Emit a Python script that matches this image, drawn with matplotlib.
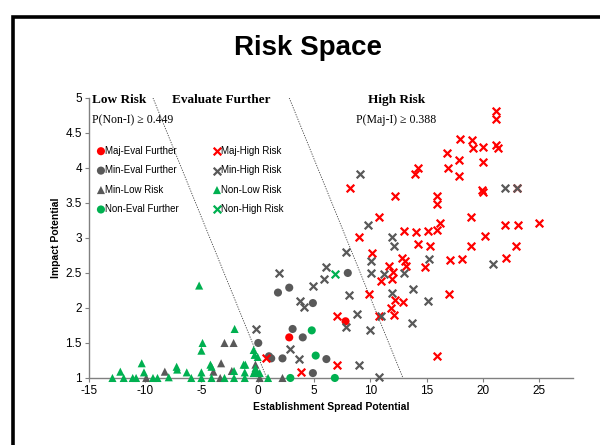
import matplotlib
matplotlib.use("Agg")
import matplotlib.pyplot as plt
import matplotlib.patches as mpatches

# ── colours ──
ROJO = "#FF0000"
GRIS = "#595959"
VERDE = "#00B050"

# ── data ──
maj_eval_x = [2.8, 7.8]
maj_eval_y = [1.58, 1.81]

min_eval_x = [0.05, 1.0, 1.2, 2.2, 1.8, 2.8, 3.1, 4.0, 4.9, 4.9, 6.1, 8.0]
min_eval_y = [1.50, 1.31, 1.28, 1.28, 2.22, 2.29, 1.70, 1.58, 2.07, 1.07, 1.27, 2.50]

min_low_x = [-9.9, -8.25, -3.93, -3.25, -2.95, -2.14, -3.33, -2.3, -0.25, -0.2, 0.18, 2.2]
min_low_y = [1.0, 1.09, 1.09, 1.21, 1.50, 1.50, 1.0, 1.10, 1.10, 1.19, 1.0, 1.0]

non_eval_x = [2.9, 4.8, 6.85, 5.15]
non_eval_y = [1.0, 1.68, 1.0, 1.32]

maj_high_x = [0.7, 3.85, 7.0, 7.0, 9.0, 10.15, 9.9, 10.75, 10.95, 11.7,
              11.9, 12.05, 12.15, 11.85, 12.1, 12.9, 12.8, 13.1, 13.2, 13.0,
              14.1, 14.2, 15.1, 15.3, 15.9, 14.9, 17.1, 17.0, 15.95, 18.15,
              21.2, 21.2, 18.0, 19.0, 19.1, 20.0, 21.2, 21.3, 16.8, 17.9,
              16.9, 20.0, 17.9, 14.2, 14.0, 19.9, 20.0, 23.0, 8.2, 12.2,
              15.9, 15.9, 10.75, 18.9, 16.2, 22.0, 23.1, 25.0, 20.2, 18.9,
              22.9, 22.05]
maj_high_y = [1.28, 1.08, 1.89, 1.19, 3.02, 2.78, 2.20, 1.88, 2.38, 2.60,
              2.41, 2.52, 2.11, 2.00, 1.90, 2.09, 2.72, 2.67, 2.60, 3.10,
              3.08, 2.92, 3.10, 2.89, 3.12, 2.59, 2.68, 2.20, 1.32, 2.70,
              4.82, 4.70, 4.41, 4.40, 4.28, 4.30, 4.33, 4.28, 4.21, 4.11,
              4.00, 4.08, 3.88, 4.00, 3.91, 3.69, 3.65, 3.72, 3.71, 3.60,
              3.60, 3.48, 3.30, 3.30, 3.22, 3.18, 3.18, 3.22, 3.03, 2.89,
              2.89, 2.72]

min_high_x = [-0.15, 1.9, 2.9, 3.8, 4.1, 3.7, 4.9, 5.85, 6.1, 7.8,
              8.1, 7.8, 8.8, 9.0, 10.0, 10.1, 10.1, 10.8, 10.95, 11.2,
              11.9, 12.1, 11.9, 13.0, 13.8, 13.7, 15.1, 15.2, 9.1, 22.0,
              23.0, 9.8, 20.9]
min_high_y = [1.70, 2.50, 1.41, 2.10, 2.01, 1.27, 2.32, 2.42, 2.58, 2.80,
              2.19, 1.73, 1.91, 1.18, 1.69, 2.67, 2.50, 1.02, 1.88, 2.48,
              3.02, 2.89, 2.22, 2.50, 2.27, 1.79, 2.10, 2.70, 3.92, 3.72,
              3.72, 3.19, 2.63]

non_low_x = [-12.9, -12.2, -11.9, -11.1, -10.8, -10.3, -10.1, -9.3, -8.9, -7.9,
             -7.2, -7.15, -6.3, -5.9, -5.2, -4.9, -5.0, -5.0, -5.0, -4.2,
             -4.1, -4.1, -2.95, -2.05, -2.1, -2.1, -1.25, -1.1, -1.15, -1.15,
             -0.36, -0.27, -0.36, -0.2, 0.0, 0.18, 0.92, -0.1]
non_low_y = [1.0, 1.09, 1.0, 1.0, 1.0, 1.21, 1.08, 1.0, 1.0, 1.01,
             1.16, 1.12, 1.08, 1.0, 2.32, 1.50, 1.39, 1.08, 1.0, 1.19,
             1.16, 1.0, 1.0, 1.70, 1.10, 1.0, 1.19, 1.19, 1.08, 1.0,
             1.40, 1.33, 1.07, 1.14, 1.30, 1.07, 1.0, 1.09]

non_high_x = [6.9]
non_high_y = [2.48]

# zone boundaries (dotted lines)
borde1_x = [-9.3, 0.8]
borde1_y = [5, 1]
borde2_x = [2.8, 12.9]
borde2_y = [5, 1]

x_ticks = [-15, -10, -5, 0, 5, 10, 15, 20, 25]
y_ticks = [1, 1.5, 2, 2.5, 3, 3.5, 4, 4.5, 5]
y_ticklabels = ["1", "1.5", "2", "2.5", "3", "3.5", "4", "4.5", "5"]

# ── figure ──
plt.rcParams["font.family"] = ["Liberation Sans", "DejaVu Sans"]
plt.rcParams["axes.unicode_minus"] = False
fig = plt.figure(figsize=(6, 4.45), dpi=100)
ax = fig.add_axes([0.148, 0.1506, 0.807, 0.6294])

# black frame around the chart area
fig.patches.append(mpatches.Rectangle((0.021, -0.2), 1.2, 1.162, transform=fig.transFigure,
                                      fill=False, edgecolor="black", linewidth=2.6))

ax.plot(borde1_x, borde1_y, color="#404040", linewidth=0.6, linestyle=(0, (1.5, 1.5)), zorder=1)
ax.plot(borde2_x, borde2_y, color="#404040", linewidth=0.6, linestyle=(0, (1.5, 1.5)), zorder=1)

series = [
    (maj_eval_x, maj_eval_y, "o", ROJO, "Maj-Eval Further"),
    (min_eval_x, min_eval_y, "o", GRIS, "Min-Eval Further"),
    (min_low_x, min_low_y, "^", GRIS, "Min-Low Risk"),
    (non_eval_x, non_eval_y, "o", VERDE, "Non-Eval Further"),
    (maj_high_x, maj_high_y, "x", ROJO, "Maj-High Risk"),
    (min_high_x, min_high_y, "x", GRIS, "Min-High Risk"),
    (non_low_x, non_low_y, "^", VERDE, "Non-Low Risk"),
    (non_high_x, non_high_y, "x", VERDE, "Non-High Risk"),
]
for xs, ys, m, c, lab in series:
    if m == "x":
        ax.scatter(xs, ys, marker="x", s=30, color=c, linewidths=1.6, label=lab,
                   clip_on=False, zorder=3)
    else:
        ax.scatter(xs, ys, marker=m, s=34, color=c, edgecolors="none", label=lab,
                   clip_on=False, zorder=3)

ax.set_xlim(-15, 28)
ax.set_ylim(1, 5)
ax.set_xticks(x_ticks)
ax.set_yticks(y_ticks)
ax.set_yticklabels(y_ticklabels)
for s in ["top", "right"]:
    ax.spines[s].set_visible(False)
for s in ["left", "bottom"]:
    ax.spines[s].set_color("#808080")
    ax.spines[s].set_linewidth(1.0)
ax.tick_params(direction="out", length=3, width=0.8, color="#808080", labelsize=8.5, pad=2)

ax.set_xlabel("Establishment Spread Potential", fontsize=7.5, fontweight="bold", labelpad=4)
ax.set_ylabel("Impact Potential", fontsize=7.5, fontweight="bold", labelpad=3)

fig.text(0.513, 0.893, "Risk Space", ha="center", va="center", fontsize=20, fontweight="bold")

serif = ["Liberation Serif", "DejaVu Serif"]
ax.text(-14.7, 4.97, "Low Risk", family=serif, fontsize=9.5, fontweight="bold", ha="left", va="center")
ax.text(-14.7, 4.68, "P(Non-I) \u2265 0.449", family=serif, fontsize=8.5, ha="left", va="center")
ax.text(-3.2, 4.97, "Evaluate Further", family=serif, fontsize=9.5, fontweight="bold", ha="center", va="center")
ax.text(12.3, 4.97, "High Risk", family=serif, fontsize=9.5, fontweight="bold", ha="center", va="center")
ax.text(12.3, 4.68, "P(Maj-I) \u2265 0.388", family=serif, fontsize=8.5, ha="center", va="center")

ax.legend(loc="upper left", bbox_to_anchor=(0.007, 0.85), ncol=2, frameon=False, fontsize=7,
          handlelength=0.6, handletextpad=0.15, columnspacing=3.6, labelspacing=0.97,
          borderaxespad=0.2, scatterpoints=1)

fig.savefig("out.png", dpi=100)
